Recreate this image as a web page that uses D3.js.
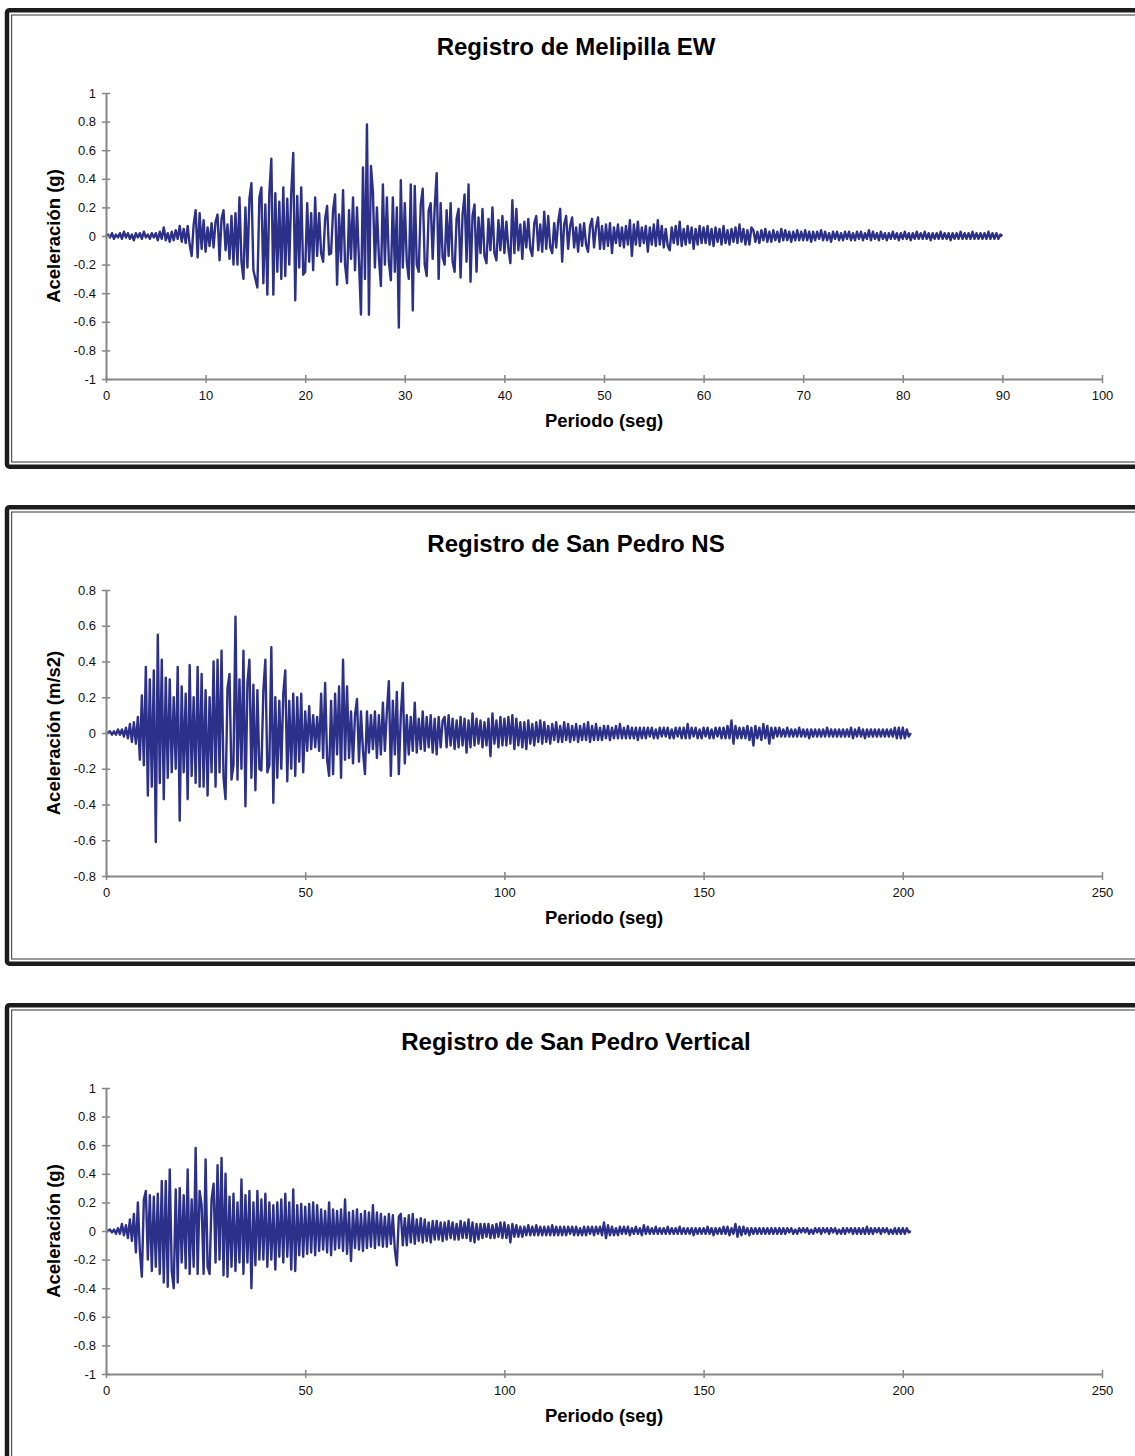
<!DOCTYPE html>
<html><head><meta charset="utf-8">
<script src="https://cdn.jsdelivr.net/npm/d3@7"></script>
<style>body{margin:0;background:#fff}svg text{font-family:"Liberation Sans",Arial,sans-serif}</style>
</head><body><svg id="c" width="1135" height="1456"></svg>
<script>
// ---------- texts ----------
const titles = ["Registro de Melipilla EW", "Registro de San Pedro NS", "Registro de San Pedro Vertical"];
const yTitles = ["Aceleración (g)", "Aceleración (m/s2)", "Aceleración (g)"];
const xTitle = "Periodo (seg)";

// ---------- tick values ----------
const yTicksG = [-1,-0.8,-0.6,-0.4,-0.2,0,0.2,0.4,0.6,0.8,1];
const yTickLabelsG = ["-1","-0.8","-0.6","-0.4","-0.2","0","0.2","0.4","0.6","0.8","1"];
const yTicksNS = [-0.8,-0.6,-0.4,-0.2,0,0.2,0.4,0.6,0.8];
const yTickLabelsNS = ["-0.8","-0.6","-0.4","-0.2","0","0.2","0.4","0.6","0.8"];
const xTicksEW = [0,10,20,30,40,50,60,70,80,90,100];
const xTicksSP = [0,50,100,150,200,250];

// ---------- sample intervals (s) ----------
const dtEW = 0.2;
const dtNS = 0.5;
const dtV = 0.5;

// ---------- Melipilla EW acceleration (g), one value every 0.2 s ----------
const accEW = [
0,.01,-.01,.02,-.02,.01,-.01,.02,-.02,.03,-.01,.02,-.02,.01,-.03,.02,-.01,.02,-.02,.03,-.01,.01,-.02,.02,-.01,
.02,-.03,.03,-.02,.06,-.03,.02,-.04,.03,-.03,.04,-.02,.07,-.04,.05,-.05,.07,-.06,-.14,.08,.18,-.15,.16,-.09,.11,
-.11,.06,-.07,.09,-.08,.1,.15,-.17,.12,.18,-.1,.08,-.16,.14,-.2,.16,-.2,.27,-.18,-.3,.2,-.22,.26,.37,-.24,
-.3,-.36,.27,.34,-.33,.22,-.41,.3,.54,-.41,.3,-.25,.24,-.3,.34,-.28,.26,-.2,.3,.58,-.45,.28,-.22,.34,-.27,
-.25,.23,-.18,.16,-.24,.27,-.14,.16,-.12,-.18,.12,.21,-.13,-.12,.18,.29,-.34,.15,-.18,.32,-.2,-.33,.18,-.16,.27,
-.24,.2,-.18,-.55,.48,-.3,.78,-.55,.49,.31,-.22,.2,-.15,-.35,.36,-.2,.27,-.18,-.31,.27,-.25,.2,-.64,.39,-.22,
.23,-.18,-.3,.36,-.52,.35,-.2,-.25,.22,.33,-.2,-.28,.18,.23,-.16,.2,.44,-.3,.23,-.15,-.2,.18,-.14,.23,-.18,
-.25,.12,.19,-.29,.15,.29,-.18,.36,-.32,.14,.22,-.25,.13,-.12,.19,-.14,-.19,.12,-.1,.2,-.12,-.17,.11,-.1,.14,
-.12,.1,-.09,-.19,.25,-.12,.19,-.1,.08,-.16,.1,-.08,.12,-.09,-.14,.09,.14,-.1,.08,-.11,.17,-.09,.14,-.08,-.12,
.09,-.08,.1,.19,-.18,.08,.14,-.09,.07,.13,-.08,.06,-.11,.08,-.07,.09,-.06,-.11,.07,.12,-.08,.06,.13,-.09,.07,
-.09,.08,-.07,.09,-.12,.06,-.05,.08,-.07,.06,-.08,.07,-.06,.11,-.14,.08,-.06,.1,-.07,.06,-.05,.07,-.11,.06,-.06,
.08,-.07,.11,-.06,.07,-.08,.05,-.07,-.1,.06,-.05,.07,-.06,.1,-.07,.05,-.06,.07,-.05,.06,-.09,.05,-.06,.07,-.05,
.06,-.05,.07,-.06,.05,-.07,.06,-.04,.05,-.06,.07,-.05,.04,-.06,.05,-.04,.06,-.05,.08,-.04,.05,-.06,.04,-.06,.06,
.04,-.04,.03,-.05,.04,-.03,.05,-.04,.03,-.04,.04,-.03,.03,-.04,.05,-.03,.04,-.03,.03,-.04,.03,-.03,.04,-.03,.03,
-.03,.04,-.03,.03,-.04,.03,-.03,.03,-.02,.04,-.03,.03,-.03,.02,-.04,.03,-.02,.03,-.03,.02,-.03,.03,-.02,.03,-.03,
.02,-.03,.03,-.02,.03,-.03,.02,-.02,.04,-.03,.03,-.02,.02,-.03,.03,-.02,.02,-.03,.02,-.02,.03,-.02,.02,-.03,.02,
-.02,.03,-.02,.02,-.03,.02,-.02,.03,-.02,.02,-.02,.03,-.02,.02,-.03,.02,-.02,.02,-.02,.03,-.02,.02,-.02,.02,-.03,
.02,-.02,.02,-.02,.03,-.02,.02,-.02,.02,-.02,.03,-.02,.02,-.02,.02,-.02,.02,-.02,.03,-.02,.02,-.02,.02,-.02,.01,
0];

// ---------- San Pedro NS acceleration (m/s2), one value every 0.5 s ----------
const accNS = [
0,0,.01,-.01,.01,-.01,.02,-.01,.02,-.02,
.03,-.03,.05,-.05,.06,-.06,.09,-.15,.21,-.18,
.37,-.35,.3,-.3,.35,-.61,.55,-.28,.41,-.37,
.31,-.25,.3,-.22,.2,-.2,.37,-.49,.26,-.22,
.22,-.37,.38,-.24,.2,-.28,.37,-.3,.33,-.3,
.24,-.35,.2,-.22,.4,-.3,.41,-.22,.46,-.25,
-.37,.25,.33,-.26,-.18,.65,-.26,.3,-.2,.46,
-.41,.28,.41,-.25,.27,-.32,.24,-.2,-.21,.24,
.41,-.22,-.18,.48,-.39,.2,-.25,.18,-.2,.22,
.35,-.27,.18,-.2,.22,-.24,.2,-.16,.22,-.22,
.12,-.1,.15,-.09,.1,-.08,.09,-.1,.22,-.14,
.28,-.15,-.24,.18,-.23,.22,-.12,.26,-.25,.41,
-.15,.26,-.14,.12,-.17,.1,.19,-.16,.12,-.1,
-.23,.12,-.11,.1,-.09,.12,-.14,.1,-.12,.17,
-.1,.12,.29,-.24,.18,-.12,.23,-.23,.1,.28,
-.17,.1,-.12,.09,-.1,.17,-.11,.08,-.09,.12,
-.1,.09,-.08,.1,-.11,.08,-.12,.09,-.08,.07,
.09,-.08,.1,-.07,.08,-.09,.07,-.08,.09,-.07,
.08,-.11,.07,-.08,.11,-.07,.08,-.06,.07,-.08,
.06,-.07,.08,-.13,.11,-.06,.07,-.08,.09,-.07,
.08,-.07,.09,-.06,.1,-.09,.08,-.07,.06,-.08,
.06,-.09,.07,-.06,.05,-.07,.06,-.05,.07,-.06,
.06,-.05,.04,-.06,.05,-.04,.06,-.05,.04,-.05,
.06,-.04,.05,-.05,.04,-.04,.05,-.05,.04,-.04,
.05,-.04,.06,-.05,.04,-.04,.05,-.04,.03,-.04,
.04,-.03,.04,-.04,.03,-.03,.04,-.03,.05,-.03,
.03,-.03,.04,-.03,.03,-.03,.03,-.04,.03,-.03,
.03,-.03,.03,-.02,.03,-.03,.02,-.03,.03,-.02,
.03,-.02,.03,-.03,.02,-.03,.03,-.02,.03,-.03,
.03,-.03,.05,-.03,.03,-.02,.03,-.03,.02,-.03,
.03,-.02,.03,-.03,.02,-.03,.03,-.02,.03,-.03,
.03,-.03,.04,-.03,.07,-.06,.04,-.03,.03,-.03,
.03,-.03,.04,-.04,.03,-.07,.04,-.03,.03,-.04,
.05,-.03,.04,-.06,.03,-.03,.03,-.02,.03,-.02,
.02,-.02,.03,-.02,.02,-.02,.02,-.02,.03,-.02,
.02,-.02,.02,-.03,.02,-.02,.02,-.02,.02,-.02,
.02,-.02,.03,-.02,.02,-.02,.02,-.02,.02,-.02,
.02,-.02,.02,-.02,.03,-.03,.02,-.02,.03,-.02,
.02,-.03,.02,-.02,.02,-.02,.02,-.02,.02,-.02,
.02,-.02,.02,-.02,.02,-.02,.03,-.03,.03,-.03,
.03,-.03,.02,-.02,0];

// ---------- San Pedro Vertical acceleration (g), one value every 0.5 s ----------
const accV = [
0,0,.01,-.01,.01,-.02,.02,-.02,.05,-.03,
.04,-.05,.08,-.07,.12,-.15,.2,-.14,-.32,.22,
.28,-.2,.25,-.28,.24,-.25,.26,-.3,.35,-.36,
.35,-.39,.43,-.28,-.4,.29,-.36,.3,-.22,.25,
-.26,.43,-.3,.22,-.25,.58,-.3,.28,.18,-.3,
.5,-.25,-.3,.22,.33,-.22,.46,-.2,.51,-.31,
.4,-.32,.24,-.25,.26,-.28,.2,-.22,.36,-.3,
.25,-.22,.28,-.4,.2,-.24,.28,-.2,.22,-.2,
.26,-.25,.2,-.2,.18,-.27,.2,-.18,.22,-.22,
.26,-.18,.2,-.27,.29,-.28,.18,-.17,.19,-.18,
.17,-.16,.19,-.15,.2,-.17,.18,-.14,.15,-.13,
.14,-.15,.2,-.17,.15,-.13,.14,-.12,.15,-.14,
.22,-.16,.13,-.21,.14,-.12,.15,-.13,.12,-.14,
.14,-.12,.13,-.11,.18,-.12,.13,-.1,.12,-.11,
.1,-.11,.12,-.09,.11,-.13,-.24,.1,.12,-.1,
.09,-.1,.11,-.08,.12,-.09,.08,-.07,.09,-.08,
.08,-.07,.06,-.08,.07,-.06,.07,-.06,.06,-.07,
.06,-.06,.07,-.05,.06,-.06,.05,-.06,.07,-.05,
.06,-.05,.08,-.07,.06,-.08,.05,-.06,.05,-.05,
.05,-.04,.05,-.05,.04,-.05,.05,-.04,.06,-.05,
.06,-.05,.04,-.08,.05,-.04,.04,-.04,.03,-.04,
.03,-.03,.04,-.03,.03,-.03,.04,-.03,.03,-.03,
.03,-.03,.03,-.03,.04,-.03,.03,-.03,.03,-.03,
.03,-.03,.03,-.02,.03,-.03,.03,-.03,.02,-.03,
.03,-.03,.03,-.02,.03,-.03,.03,-.02,.03,-.03,
.06,-.05,.04,-.03,.03,-.03,.02,-.03,.03,-.02,
.03,-.02,.03,-.03,.02,-.02,.03,-.02,.02,-.03,
.04,-.02,.03,-.02,.02,-.02,.03,-.02,.02,-.02,
.02,-.02,.03,-.02,.02,-.02,.02,-.02,.03,-.02,
.02,-.02,.02,-.02,.02,-.03,.02,-.02,.02,-.02,
.02,-.02,.03,-.02,.02,-.03,.02,-.02,.02,-.02,
.03,-.02,.03,-.03,.02,-.02,.05,-.04,.03,-.03,
.03,-.02,.02,-.03,.02,-.02,.02,-.02,.02,-.02,
.02,-.02,.02,-.02,.02,-.02,.02,-.02,.02,-.02,
.02,-.02,.02,-.01,.02,-.02,.01,-.02,.02,-.01,
.02,-.01,.02,-.02,.01,-.02,.02,-.01,.02,-.02,
.02,-.01,.02,-.02,.02,-.01,.02,-.02,.01,-.02,
.02,-.02,.02,-.01,.02,-.02,.02,-.02,.02,-.02,
.02,-.02,.03,-.02,.02,-.02,.02,-.01,.02,-.02,
.02,-.01,.02,-.02,.01,-.02,.02,-.02,.02,-.02,
.02,-.02,.02,-.01,0];

// ---------- drawing ----------
const svg = d3.select("#c");
const panels = [
  {top: 8,    title: titles[0], yTitle: yTitles[0], data: accEW, dt: dtEW, xMax: 100, xTicks: xTicksEW, yDom: [-1, 1],     yTicks: yTicksG,  yLabels: yTickLabelsG},
  {top: 505,  title: titles[1], yTitle: yTitles[1], data: accNS, dt: dtNS, xMax: 250, xTicks: xTicksSP, yDom: [-0.8, 0.8], yTicks: yTicksNS, yLabels: yTickLabelsNS},
  {top: 1003, title: titles[2], yTitle: yTitles[2], data: accV,  dt: dtV,  xMax: 250, xTicks: xTicksSP, yDom: [-1, 1],     yTicks: yTicksG,  yLabels: yTickLabelsG}
];
const axisColor = "#878787";
const lineColor = "#2c3088";
const plotL = 106, plotR = 1102, plotT = 85, plotB = 371;

panels.forEach(p => {
  const g = svg.append("g").attr("transform", `translate(0,${p.top})`);
  // frame
  g.append("rect").attr("x", 7).attr("y", 2.2).attr("width", 1160).attr("height", 456.5)
    .attr("rx", 2.5).attr("fill", "none").attr("stroke", "#1c1c1c").attr("stroke-width", 4.5);
  g.append("rect").attr("x", 11.6).attr("y", 7).attr("width", 1150).attr("height", 447)
    .attr("fill", "none").attr("stroke", "#555").attr("stroke-width", 1.2);

  const x = d3.scaleLinear().domain([0, p.xMax]).range([plotL, plotR]);
  const y = d3.scaleLinear().domain(p.yDom).range([plotB, plotT]);

  // data line
  const line = d3.line().x((d, i) => x(i * p.dt)).y(d => y(d));
  g.append("path").datum(p.data).attr("d", line).attr("fill", "none")
    .attr("stroke", lineColor).attr("stroke-width", 2.4).attr("stroke-linejoin", "round");

  // y axis
  const ya = g.append("g").attr("transform", `translate(${plotL},0)`)
    .call(d3.axisLeft(y).tickValues(p.yTicks).tickFormat((d, i) => p.yLabels[i]).tickSize(4).tickSizeOuter(0).tickPadding(6));
  ya.select(".domain").attr("stroke", axisColor).attr("stroke-width", 2);
  ya.selectAll(".tick line").attr("x1", -4).attr("x2", 4).attr("stroke", axisColor).attr("stroke-width", 1.5);
  ya.selectAll(".tick text").attr("font-size", 13).attr("fill", "#111");

  // x axis
  const xa = g.append("g").attr("transform", `translate(0,${plotB})`)
    .call(d3.axisBottom(x).tickValues(p.xTicks).tickFormat(d3.format("d")).tickSize(4).tickSizeOuter(0).tickPadding(8));
  xa.select(".domain").attr("stroke", axisColor).attr("stroke-width", 2);
  xa.selectAll(".tick line").attr("y1", -4).attr("y2", 4).attr("stroke", axisColor).attr("stroke-width", 1.5);
  xa.selectAll(".tick text").attr("font-size", 13).attr("fill", "#111");

  // titles
  g.append("text").attr("x", 576).attr("y", 39).attr("dy", "0.35em").attr("text-anchor", "middle")
    .attr("font-size", 24).attr("font-weight", "bold").text(p.title);
  g.append("text").attr("x", (plotL + plotR) / 2).attr("y", 413).attr("dy", "0.35em").attr("text-anchor", "middle")
    .attr("font-size", 18.5).attr("font-weight", "bold").text(xTitle);
  g.append("text").attr("transform", `translate(54,${(plotT + plotB) / 2}) rotate(-90)`).attr("dy", "0.35em")
    .attr("text-anchor", "middle").attr("font-size", 18.5).attr("font-weight", "bold").text(p.yTitle);
});
</script></body></html>
